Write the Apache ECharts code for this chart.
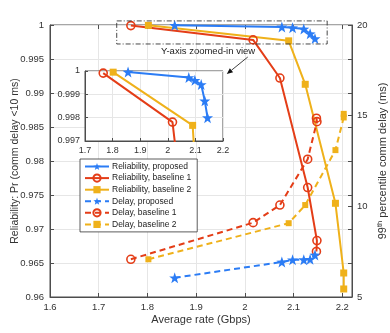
<!DOCTYPE html>
<html>
<head>
<meta charset="utf-8">
<script src="https://cdn.jsdelivr.net/npm/echarts@6/dist/echarts.min.js"></script>
<style>
html,body{margin:0;padding:0;background:#fff;}
#chart{width:390px;height:333px;}
</style>
</head>
<body>
<div id="chart"></div>
<script>
// ---- data ----
const xTicks = [1.6, 1.7, 1.8, 1.9, 2.0, 2.1, 2.2];
const rateProposed = [1.856, 2.076, 2.098, 2.121, 2.134, 2.144];
const relProposed = [0.99996, 0.99972, 0.99960, 0.99942, 0.99872, 0.99800];
const delayProposed = [6.06, 6.93, 7.05, 7.06, 7.08, 7.32];

const rateBase1 = [1.766, 2.017, 2.072, 2.129, 2.148, 2.147];
const relBase1 = [0.99991, 0.99781, 0.9922, 0.9761, 0.9683, 0.9667];
const delayBase1 = [7.08, 9.10, 10.07, 12.60, 14.67, 14.86];

const rateBase2 = [1.802, 2.090, 2.124, 2.186, 2.203, 2.203];
const relBase2 = [0.99995, 0.99767, 0.99128, 0.97378, 0.96353, 0.96118];
const delayBase2 = [7.08, 9.07, 10.07, 13.10, 14.90, 15.10];

const seriesNames = ['Reliability, proposed', 'Reliability, baseline 1', 'Reliability, baseline 2',
                     'Delay, proposed', 'Delay, baseline 1', 'Delay, baseline 2'];

const BLUE = '#2b7cf5', RED = '#e43d17', YEL = '#efb11a';
const STAR = 'path://M0,-10 L2.35,-3.24 L9.51,-3.09 L3.8,1.24 L5.88,8.09 L0,4 L-5.88,8.09 L-3.8,1.24 L-9.51,-3.09 L-2.35,-3.24 Z';
const FONT = '"Liberation Sans", Arial, Helvetica, sans-serif';
const AX = '#4d4d4d';

function pairs(xs, ys){ return xs.map((x,i)=>[x, ys[i]]); }
function fmtX(v){ return Math.abs(v*10 - Math.round(v*10)) < 1e-6 ? String(+v.toFixed(1)) : ''; }
function fmtY(v){ return String(+v.toFixed(3)); }

function mk(name, xs, ys, color, sym, size, dashed, yIdx, xIdx, z, filled){
  return {
    name: name, type: 'line', xAxisIndex: xIdx, yAxisIndex: yIdx,
    data: pairs(xs, ys), symbol: sym, symbolSize: size, showSymbol: true,
    z: z, animation: false, clip: true,
    lineStyle: {color: color, width: 2, type: dashed ? [6,4] : 'solid'},
    itemStyle: {color: filled ? color : 'rgba(255,255,255,0)', borderColor: color, borderWidth: filled ? 0 : 1.6}
  };
}

const chart = echarts.init(document.getElementById('chart'), null, {renderer: 'canvas'});

const mainGrid = {left: 50, right: 38, top: 25, bottom: 36, show: true, borderColor: AX, borderWidth: 1,
  backgroundColor: 'transparent', z: 0, containLabel: false, outerBoundsMode: 'none'};
const insetGrid = {left: 85, top: 71, width: 138, height: 70, show: true, borderColor: AX, borderWidth: 1,
  backgroundColor: '#fff', z: 5, containLabel: false, outerBoundsMode: 'none'};

const option = {
  animation: false,
  textStyle: {fontFamily: FONT},
  grid: [mainGrid, insetGrid],
  xAxis: [
    {type: 'value', gridIndex: 0, min: 1.6, max: 2.22, interval: 0.1,
     name: 'Average rate (Gbps)', nameLocation: 'middle', nameGap: 17, nameMoveOverlap: false,
     nameTextStyle: {fontSize: 11, color: '#333', fontFamily: FONT},
     axisLine: {show: true, lineStyle: {color: AX}},
     axisTick: {show: true, inside: true, length: 4, lineStyle: {color: AX}},
     axisLabel: {formatter: fmtX, fontSize: 9.5, color: '#333', margin: 5, fontFamily: FONT, showMaxLabel: false},
     splitLine: {show: true, lineStyle: {color: '#e6e6e6', width: 1}}},
    {type: 'value', gridIndex: 1, min: 1.7, max: 2.2, interval: 0.1,
     axisLine: {show: true, lineStyle: {color: AX}},
     axisTick: {show: true, inside: true, length: 3, lineStyle: {color: AX}},
     axisLabel: {formatter: fmtX, fontSize: 9, color: '#333', margin: 5, fontFamily: FONT},
     splitLine: {show: true, lineStyle: {color: '#e6e6e6', width: 1}}, z: 6},
    {type: 'value', gridIndex: 0, position: 'top', min: 1.6, max: 2.22, interval: 0.1,
     axisLine: {show: false}, axisLabel: {show: false}, splitLine: {show: false},
     axisTick: {show: true, inside: true, length: 4, lineStyle: {color: AX}}}
  ],
  yAxis: [
    {type: 'value', gridIndex: 0, min: 0.96, max: 1, interval: 0.005,
     name: 'Reliability: Pr (comm delay <10 ms)', nameLocation: 'middle', nameGap: 29, nameRotate: 90,
     nameMoveOverlap: false,
     nameTextStyle: {fontSize: 10.5, color: '#333', fontFamily: FONT},
     axisLine: {show: true, lineStyle: {color: AX}},
     axisTick: {show: true, inside: true, length: 4, lineStyle: {color: AX}},
     axisLabel: {formatter: fmtY, fontSize: 9.5, color: '#333', margin: 6, fontFamily: FONT},
     splitLine: {show: true, lineStyle: {color: '#e6e6e6', width: 1}}},
    {type: 'value', gridIndex: 0, position: 'right', min: 5, max: 20, interval: 5,
     name: '{a|99}{b|th}{a| percentile comm delay (ms)}', nameLocation: 'middle', nameGap: 24, nameRotate: 90,
     nameMoveOverlap: false,
     nameTextStyle: {color: '#333', fontFamily: FONT, rich: {
        a: {fontSize: 11, color: '#333', fontFamily: FONT},
        b: {fontSize: 7.5, color: '#333', fontFamily: FONT, verticalAlign: 'top', padding: [0,0,6,0]}}},
     axisLine: {show: true, lineStyle: {color: AX}},
     axisTick: {show: true, inside: true, length: 4, lineStyle: {color: AX}},
     axisLabel: {fontSize: 9.5, color: '#333', margin: 5, fontFamily: FONT},
     splitLine: {show: false}},
    {type: 'value', gridIndex: 1, min: 0.997, max: 1, interval: 0.001,
     axisLine: {show: true, lineStyle: {color: AX}},
     axisTick: {show: true, inside: true, length: 3, lineStyle: {color: AX}},
     axisLabel: {formatter: fmtY, fontSize: 9, color: '#333', margin: 5, fontFamily: FONT},
     splitLine: {show: true, lineStyle: {color: '#e6e6e6', width: 1}}, z: 6},
    {type: 'value', gridIndex: 0, position: 'right', offset: 0, min: 0.96, max: 1, interval: 0.005,
     axisLine: {show: false}, axisLabel: {show: false}, splitLine: {show: false},
     axisTick: {show: true, inside: true, length: 4, lineStyle: {color: AX}}}
  ],
  legend: {
    data: seriesNames, orient: 'vertical', left: 80, top: 159,
    itemWidth: 24, itemHeight: 9, itemGap: 2.5, padding: [3, 6, 3, 4],
    backgroundColor: '#fff', borderColor: '#333', borderWidth: 0.8, borderRadius: 0,
    textStyle: {fontSize: 8.5, color: '#222', fontFamily: FONT, padding: [0,0,0,-2]},
    selectedMode: false, z: 8
  },
  series: [
    mk(seriesNames[0], rateProposed, relProposed, BLUE, STAR, 11, false, 0, 0, 3, true),
    mk(seriesNames[1], rateBase1, relBase1, RED, 'circle', 8, false, 0, 0, 3, false),
    mk(seriesNames[2], rateBase2, relBase2, YEL, 'rect', 7, false, 0, 0, 3, true),
    mk(seriesNames[3], rateProposed, delayProposed, BLUE, STAR, 11, true, 1, 0, 3, true),
    mk(seriesNames[4], rateBase1, delayBase1, RED, 'circle', 8, true, 1, 0, 3, false),
    mk(seriesNames[5], rateBase2, delayBase2, YEL, 'rect', 6, true, 1, 0, 3, true),
    mk('inset proposed', rateProposed, relProposed, BLUE, STAR, 11, false, 2, 1, 7, true),
    mk('inset base1', rateBase1, relBase1, RED, 'circle', 8, false, 2, 1, 7, false),
    mk('inset base2', rateBase2, relBase2, YEL, 'rect', 7, false, 2, 1, 7, true)
  ]
};
chart.setOption(option);

// annotations positioned through the main axes
const P = (x, y) => chart.convertToPixel({xAxisIndex: 0, yAxisIndex: 0}, [x, y]);
const b0 = P(1.737, 1.0006), b1 = P(2.169, 0.99721);
const t = P(1.9245, 0.99618);
const a0 = P(2.006, 0.99529), a1 = P(1.963, 0.99279);
const dx = a1[0]-a0[0], dy = a1[1]-a0[1], L = Math.hypot(dx, dy);
const ux = dx/L, uy = dy/L, hl = 6, hw = 2.6;
const base = [a1[0]-ux*hl, a1[1]-uy*hl];
chart.setOption({graphic: [
  {type: 'rect', z: 20, shape: {x: b0[0], y: b0[1], width: b1[0]-b0[0], height: b1[1]-b0[1]},
   style: {fill: 'none', stroke: '#333', lineWidth: 0.9, lineDash: [5, 2, 1, 2]}},
  {type: 'text', z: 20, style: {x: t[0], y: t[1], text: 'Y-axis zoomed-in view', fill: '#222',
   font: '9.5px ' + FONT, textAlign: 'center', textVerticalAlign: 'middle'}},
  {type: 'line', z: 20, shape: {x1: a0[0], y1: a0[1], x2: base[0], y2: base[1]}, style: {stroke: '#111', lineWidth: 0.8}},
  {type: 'polygon', z: 20, shape: {points: [a1, [base[0]-uy*hw, base[1]+ux*hw], [base[0]+uy*hw, base[1]-ux*hw]]},
   style: {fill: '#111'}}
]});
</script>
</body>
</html>
